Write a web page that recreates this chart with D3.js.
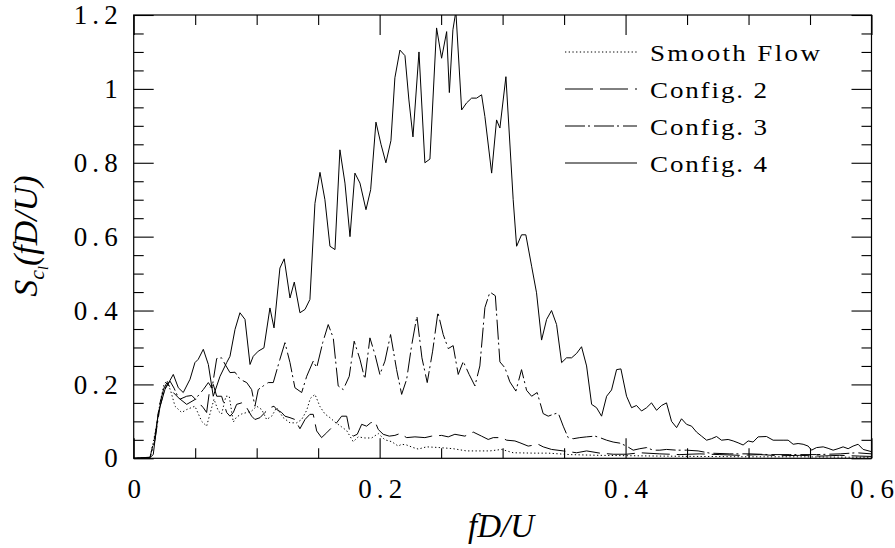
<!DOCTYPE html>
<html>
<head>
<meta charset="utf-8">
<script src="https://cdn.jsdelivr.net/npm/d3@7"></script>
<style>
  html, body { margin: 0; padding: 0; background: #fff; }
  svg { display: block; }
</style>
</head>
<body>
<svg id="chart" width="895" height="548"></svg>
<script>
// ---------------- data ----------------
const xTickLabels = [0, 0.2, 0.4, 0.6];
const yTickLabels = [0, 0.2, 0.4, 0.6, 0.8, 1, 1.2];
const xMinorTicks = [0,0.05,0.1,0.15,0.2,0.25,0.3,0.35,0.4,0.45,0.5,0.55,0.6];
const yMinorTicks = [0,0.05,0.1,0.15,0.2,0.25,0.3,0.35,0.4,0.45,0.5,0.55,0.6,0.65,0.7,0.75,0.8,0.85,0.9,0.95,1,1.05,1.1,1.15,1.2];
const seriesNames = ["Smooth Flow", "Config. 2", "Config. 3", "Config. 4"];

const smoothF = [0,0.0133,0.0181,0.0214,0.0246,0.0271,0.0303,0.0336,0.039,0.0431,0.0498,0.0553,0.0593,0.062,0.0653,0.0688,0.0715,0.075,0.0777,0.081,0.0837,0.0878,0.0919,0.0959,0.1,0.1041,0.1081,0.1122,0.1163,0.1216,0.1271,0.1325,0.1366,0.1407,0.1436,0.1474,0.1515,0.1555,0.1596,0.1637,0.1691,0.1732,0.1785,0.1826,0.188,0.1935,0.1989,0.2043,0.2098,0.2151,0.2179,0.222,0.2273,0.2314,0.2382,0.249,0.2598,0.2707,0.2815,0.2897,0.2992,0.3086,0.3249,0.3371,0.3547,0.3791,0.4035,0.4279,0.4604,0.5011,0.5417,0.5823,0.6];
const smoothV = [0,0.002,0.08,0.15,0.2,0.21,0.18,0.141,0.124,0.132,0.141,0.1,0.087,0.12,0.16,0.128,0.12,0.168,0.168,0.098,0.112,0.12,0.124,0.128,0.141,0.132,0.105,0.114,0.137,0.11,0.096,0.096,0.105,0.13,0.162,0.173,0.14,0.12,0.11,0.098,0.085,0.075,0.045,0.058,0.055,0.055,0.067,0.05,0.045,0.033,0.038,0.036,0.029,0.025,0.031,0.029,0.026,0.02,0.02,0.02,0.024,0.015,0.014,0.014,0.01,0.008,0.007,0.006,0.005,0.004,0.004,0.003,0.003];

const config2F = [0,0.0133,0.0173,0.0214,0.0246,0.0271,0.0322,0.0376,0.0431,0.0472,0.0525,0.0566,0.0593,0.062,0.0647,0.0675,0.0715,0.0756,0.0783,0.081,0.0837,0.0878,0.0919,0.0959,0.0986,0.1027,0.1067,0.1108,0.1141,0.1163,0.1203,0.123,0.1271,0.1311,0.1352,0.1393,0.1433,0.146,0.1488,0.1528,0.1569,0.161,0.165,0.1691,0.1732,0.1759,0.1785,0.1818,0.1854,0.1894,0.1927,0.1962,0.1989,0.2029,0.2078,0.2124,0.2165,0.222,0.2287,0.2368,0.2423,0.2504,0.2558,0.2612,0.2693,0.2761,0.2829,0.2883,0.2924,0.2992,0.3033,0.31,0.3141,0.3208,0.3289,0.333,0.3398,0.3493,0.3602,0.3683,0.3791,0.3899,0.4008,0.4116,0.4279,0.4442,0.4604,0.4767,0.4929,0.5092,0.5254,0.5417,0.5579,0.5742,0.5904,0.6];
const config2V = [0,0.003,0.06,0.15,0.19,0.205,0.178,0.16,0.168,0.17,0.152,0.137,0.124,0.191,0.2,0.168,0.168,0.124,0.114,0.124,0.146,0.15,0.137,0.114,0.105,0.11,0.124,0.137,0.141,0.132,0.124,0.114,0.11,0.105,0.08,0.105,0.119,0.119,0.074,0.056,0.069,0.083,0.096,0.114,0.114,0.069,0.06,0.065,0.092,0.087,0.096,0.1,0.078,0.065,0.06,0.062,0.067,0.056,0.058,0.056,0.06,0.062,0.058,0.065,0.06,0.071,0.06,0.051,0.056,0.056,0.049,0.047,0.042,0.033,0.038,0.031,0.024,0.02,0.015,0.02,0.014,0.011,0.011,0.015,0.012,0.01,0.012,0.01,0.008,0.01,0.007,0.008,0.006,0.008,0.006,0.005];

const config3F = [0,0.0133,0.0173,0.0214,0.0254,0.0295,0.0328,0.0363,0.0431,0.0498,0.0566,0.0607,0.0637,0.0675,0.0715,0.0742,0.0783,0.0824,0.0864,0.0919,0.0959,0.0986,0.1013,0.1054,0.1094,0.1135,0.1189,0.123,0.1271,0.1311,0.1366,0.1407,0.146,0.1488,0.1537,0.1582,0.1623,0.1663,0.1704,0.1753,0.1793,0.184,0.188,0.1921,0.1962,0.2002,0.2043,0.2089,0.2138,0.2179,0.222,0.226,0.2303,0.2344,0.2387,0.2431,0.2474,0.2517,0.2558,0.2598,0.2639,0.268,0.2728,0.2775,0.2815,0.2856,0.2897,0.2941,0.2978,0.3019,0.3059,0.3108,0.3154,0.3195,0.3236,0.3281,0.333,0.3371,0.3411,0.3452,0.3493,0.3533,0.3574,0.3628,0.3683,0.3751,0.3791,0.3846,0.3899,0.3954,0.4008,0.4062,0.4116,0.4171,0.4224,0.4279,0.4333,0.4415,0.4496,0.459,0.4685,0.4848,0.5011,0.5173,0.5336,0.5553,0.5746,0.5878,0.6];
const config3V = [0,0.002,0.05,0.14,0.19,0.209,0.19,0.164,0.146,0.159,0.186,0.205,0.19,0.27,0.272,0.255,0.232,0.233,0.214,0.205,0.186,0.141,0.186,0.196,0.205,0.205,0.268,0.313,0.259,0.191,0.178,0.222,0.263,0.245,0.313,0.362,0.326,0.196,0.186,0.222,0.317,0.268,0.214,0.326,0.281,0.227,0.263,0.335,0.24,0.173,0.214,0.305,0.385,0.272,0.205,0.29,0.395,0.335,0.297,0.305,0.227,0.262,0.227,0.196,0.25,0.408,0.45,0.44,0.261,0.245,0.207,0.182,0.24,0.184,0.168,0.178,0.121,0.114,0.119,0.123,0.087,0.056,0.053,0.056,0.058,0.06,0.056,0.049,0.044,0.041,0.033,0.022,0.026,0.029,0.022,0.022,0.024,0.022,0.022,0.02,0.014,0.012,0.012,0.01,0.01,0.01,0.012,0.015,0.012];

const config4F = [0,0.0051,0.0133,0.0159,0.02,0.0254,0.0322,0.0363,0.0403,0.0458,0.0498,0.0525,0.0566,0.0607,0.0647,0.0702,0.0756,0.0783,0.0824,0.0864,0.0905,0.0946,0.0972,0.1013,0.1059,0.1108,0.1141,0.1189,0.1224,0.1271,0.1306,0.1352,0.1393,0.1433,0.1474,0.1515,0.1555,0.1596,0.1637,0.1677,0.1718,0.1759,0.1799,0.184,0.1889,0.1927,0.197,0.2011,0.2051,0.2092,0.2124,0.2165,0.2206,0.2238,0.2271,0.232,0.2368,0.2409,0.2463,0.2504,0.2545,0.2567,0.2596,0.262,0.2667,0.2707,0.2748,0.2789,0.2829,0.2856,0.2911,0.2951,0.2978,0.3027,0.3086,0.3114,0.3154,0.3189,0.3236,0.3276,0.3317,0.3358,0.3398,0.3439,0.348,0.352,0.3561,0.3602,0.3642,0.3683,0.3724,0.3764,0.3805,0.3846,0.3886,0.3927,0.3962,0.4008,0.4049,0.4089,0.413,0.4171,0.4211,0.4252,0.4293,0.4333,0.4374,0.4415,0.4455,0.4496,0.4537,0.4577,0.4618,0.4659,0.4699,0.474,0.478,0.4834,0.4875,0.4915,0.4956,0.4997,0.5037,0.5078,0.5146,0.52,0.5281,0.5322,0.5363,0.5403,0.5444,0.5485,0.5512,0.5553,0.5607,0.5647,0.5688,0.5728,0.5769,0.581,0.585,0.5891,0.5932,0.6];
const config4V = [0,0,0.002,0.01,0.124,0.186,0.227,0.191,0.178,0.214,0.259,0.268,0.295,0.254,0.168,0.222,0.259,0.276,0.349,0.394,0.376,0.254,0.276,0.29,0.299,0.407,0.353,0.515,0.54,0.434,0.477,0.394,0.403,0.43,0.69,0.774,0.7,0.574,0.565,0.835,0.745,0.6,0.772,0.745,0.673,0.727,0.91,0.85,0.8,0.86,1.03,1.105,1.09,0.97,0.87,1.1,0.8,0.81,1.165,1.083,1.155,0.99,1.16,1.21,0.943,0.962,0.975,0.975,0.984,0.925,0.772,0.916,0.894,1.033,0.7,0.574,0.605,0.605,0.52,0.448,0.32,0.376,0.4,0.362,0.259,0.272,0.272,0.284,0.302,0.25,0.146,0.137,0.114,0.168,0.185,0.24,0.242,0.168,0.137,0.143,0.128,0.137,0.15,0.13,0.143,0.15,0.1,0.083,0.107,0.092,0.087,0.071,0.06,0.049,0.053,0.059,0.049,0.051,0.047,0.042,0.036,0.047,0.044,0.058,0.059,0.049,0.049,0.049,0.038,0.04,0.038,0.033,0.022,0.029,0.031,0.027,0.022,0.026,0.031,0.026,0.033,0.038,0.024,0.018];

// ---------------- drawing ----------------
const svg = d3.select("#chart");
const FONT = "'Liberation Serif', 'DejaVu Serif', serif";
const pL = 133.7, pR = 871.5, pT = 15, pB = 458.3;

const x = d3.scaleLinear().domain([0, 0.6]).range([pL, pR]);
const y = d3.scaleLinear().domain([0, 1.2]).range([pB, pT]);

svg.append("defs").append("clipPath").attr("id", "plotclip")
  .append("rect").attr("x", pL).attr("y", pT)
  .attr("width", pR - pL).attr("height", pB - pT);

// tick marks on all four sides
const isMajor = d => Math.abs(d / 0.2 - Math.round(d / 0.2)) < 1e-6;

function tickAxis(gen, tr) {
  const g = svg.append("g").attr("transform", tr).call(gen);
  g.select(".domain").remove();
  g.selectAll("text").remove();
  g.selectAll("line").attr("stroke", "#000").attr("stroke-width", 1.1);
  return g;
}
const majX = xMinorTicks.filter(isMajor), minX = xMinorTicks.filter(d => !isMajor(d));
const majY = yMinorTicks.filter(isMajor), minY = yMinorTicks.filter(d => !isMajor(d));

tickAxis(d3.axisBottom(x).tickValues(minX).tickSize(-10), `translate(0,${pB})`);
tickAxis(d3.axisBottom(x).tickValues(majX).tickSize(-20), `translate(0,${pB})`);
tickAxis(d3.axisTop(x).tickValues(minX).tickSize(-10), `translate(0,${pT})`);
tickAxis(d3.axisTop(x).tickValues(majX).tickSize(-20), `translate(0,${pT})`);
tickAxis(d3.axisLeft(y).tickValues(minY).tickSize(-10), `translate(${pL},0)`);
tickAxis(d3.axisLeft(y).tickValues(majY).tickSize(-20), `translate(${pL},0)`);
tickAxis(d3.axisRight(y).tickValues(minY).tickSize(-10), `translate(${pR},0)`);
tickAxis(d3.axisRight(y).tickValues(majY).tickSize(-20), `translate(${pR},0)`);

// frame
svg.append("rect").attr("x", pL).attr("y", pT)
  .attr("width", pR - pL).attr("height", pB - pT)
  .attr("fill", "none").attr("stroke", "#000").attr("stroke-width", 1.2);

// tick labels
const fmt = d => String(d);
const xl = svg.append("g").attr("transform", `translate(0,${pB})`)
  .call(d3.axisBottom(x).tickValues(xTickLabels).tickSize(0).tickPadding(21).tickFormat(fmt));
xl.select(".domain").remove();
const yl = svg.append("g").attr("transform", `translate(${pL},0)`)
  .call(d3.axisLeft(y).tickValues(yTickLabels).tickSize(0).tickPadding(16).tickFormat(fmt));
yl.select(".domain").remove();
[xl, yl].forEach(g => g.selectAll("text")
  .attr("font-family", FONT).attr("font-size", 27).attr("fill", "#000")
  .each(function(d) {
    const s = fmt(d);
    if (s.length > 1) d3.select(this).attr("textLength", 44).attr("lengthAdjust", "spacing");
  }));

// series lines
const styles = [
  { F: smoothF, V: smoothV, dash: "1.3,2.4" },
  { F: config2F, V: config2V, dash: "28,7" },
  { F: config3F, V: config3V, dash: "20,3,2,4" },
  { F: config4F, V: config4V, dash: null }
];
const line = d3.line().x(d => x(d[0])).y(d => y(d[1]));
const plot = svg.append("g").attr("clip-path", "url(#plotclip)");
styles.forEach(s => {
  plot.append("path").datum(d3.zip(s.F, s.V))
    .attr("d", line).attr("fill", "none").attr("stroke", "#000")
    .attr("stroke-width", 1).attr("stroke-dasharray", s.dash);
});

// legend
const lg = svg.append("g");
const legendWidths = [170, 117, 117, 117];
const sx = 1.15;
seriesNames.forEach((name, i) => {
  const ly = 52 + i * 37;
  lg.append("line").attr("x1", 565).attr("x2", 637).attr("y1", ly).attr("y2", ly)
    .attr("stroke", "#000").attr("stroke-width", 1).attr("stroke-dasharray", styles[i].dash);
  lg.append("text").attr("transform", `translate(650,${ly + 8.5}) scale(${sx},1)`)
    .attr("font-family", FONT).attr("font-size", 23.5).attr("fill", "#000")
    .attr("textLength", legendWidths[i] / sx).attr("lengthAdjust", "spacing")
    .text(name);
});

// axis titles
svg.append("text").attr("x", 501).attr("y", 537)
  .attr("text-anchor", "middle").attr("font-family", FONT)
  .attr("font-style", "italic").attr("font-size", 33).attr("fill", "#000")
  .text("fD/U");

const yt = svg.append("text").attr("transform", "translate(37,236) rotate(-90)")
  .attr("text-anchor", "middle").attr("font-family", FONT)
  .attr("font-style", "italic").attr("font-size", 34).attr("fill", "#000");
yt.append("tspan").text("S");
yt.append("tspan").attr("font-size", 22).attr("dy", 7).text("c");
yt.append("tspan").attr("font-size", 14).attr("dy", 4).text("l");
yt.append("tspan").attr("font-size", 34).attr("dy", -11).text("(fD/U)");
</script>
</body>
</html>
